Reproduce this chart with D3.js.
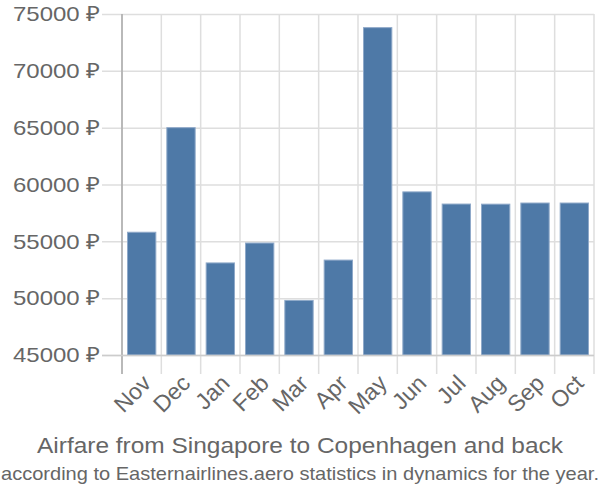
<!DOCTYPE html>
<html>
<head>
<meta charset="utf-8">
<script src="https://cdn.jsdelivr.net/npm/d3@7"></script>
<style>
  body { margin: 0; background: #fff; }
  svg { display: block; font-family: "Liberation Sans", Arial, sans-serif; }
</style>
</head>
<body>
<div id="vis"></div>
<script>
// data
var months = ["Nov","Dec","Jan","Feb","Mar","Apr","May","Jun","Jul","Aug","Sep","Oct"]
var prices = [55800, 65000, 53100, 54850, 49800, 53350, 73800, 59350, 58280, 58270, 58370, 58370]
var yTicks = [45000, 50000, 55000, 60000, 65000, 70000, 75000]
var title = "Airfare from Singapore to Copenhagen and back"
var subtitle = "according to Easternairlines.aero statistics in dynamics for the year."

var width = 600, height = 500
var plotLeft = 122, plotRight = 594, plotTop = 14, plotBottom = 355

var x = d3.scaleBand()
  .domain(months)
  .range([plotLeft, plotRight])
  .paddingInner(0.28)
  .paddingOuter(0.14)

var y = d3.scaleLinear()
  .domain([45000, 75000])
  .range([plotBottom, plotTop])

var svg = d3.select("#vis").append("svg")
  .attr("width", width)
  .attr("height", height)

// horizontal grid
svg.append("g").selectAll("line")
  .data(yTicks)
  .enter().append("line")
  .attr("x1", plotLeft - 20)
  .attr("x2", plotRight)
  .attr("y1", d => y(d) + 0.5)
  .attr("y2", d => y(d) + 0.5)
  .style("stroke", "#dedede")
  .style("stroke-width", "1.5px")

// vertical grid
var step = x.step()
svg.append("g").selectAll("line")
  .data(d3.range(months.length + 1))
  .enter().append("line")
  .attr("x1", i => plotLeft + i * step)
  .attr("x2", i => plotLeft + i * step)
  .attr("y1", plotTop)
  .attr("y2", plotBottom + 19)
  .style("stroke", "#dedede")
  .style("stroke-width", "1.5px")

// bars
svg.append("g").selectAll("rect")
  .data(prices)
  .enter().append("rect")
  .attr("x", (d, i) => x(months[i]))
  .attr("y", d => y(d))
  .attr("width", x.bandwidth())
  .attr("height", d => plotBottom - y(d))
  .style("fill", "#4e79a7")
  .style("stroke", "#8fa9c9")
  .style("stroke-width", "1px")

// axis lines
svg.append("line")
  .attr("x1", plotLeft).attr("x2", plotLeft)
  .attr("y1", plotTop).attr("y2", plotBottom + 19)
  .style("stroke", "#aaaaaa").style("stroke-width", "1.5px")

svg.append("line")
  .attr("x1", plotLeft - 20).attr("x2", plotRight)
  .attr("y1", plotBottom + 0.5).attr("y2", plotBottom + 0.5)
  .style("stroke", "#cccccc").style("stroke-width", "1.5px")

// y labels
var yAxis = svg.append("g")
  .attr("transform", `translate(${plotLeft - 22},0)`)
  .call(d3.axisLeft(y).tickValues(yTicks).tickSize(0).tickPadding(0).tickFormat(d => d + " ₽"))
yAxis.select(".domain").remove()
yAxis.selectAll("text")
  .style("font-family", "'Liberation Sans', Arial, sans-serif")
  .style("font-size", "21px")
  .attr("fill", "#666")
  .attr("textLength", 87)
  .attr("lengthAdjust", "spacingAndGlyphs")

// x labels
var xAxis = svg.append("g")
  .attr("transform", `translate(0,${plotBottom})`)
  .call(d3.axisBottom(x).tickSize(0).tickPadding(0))
xAxis.select(".domain").remove()
xAxis.selectAll("text")
  .style("font-family", "'Liberation Sans', Arial, sans-serif")
  .style("font-size", "23px")
  .attr("fill", "#666")
  .attr("text-anchor", "end")
  .attr("dy", "0.35em")
  .attr("transform", "translate(5,24) rotate(-45)")

// titles
svg.append("text")
  .attr("x", width / 2)
  .attr("y", 453)
  .attr("text-anchor", "middle")
  .attr("fill", "#666")
  .attr("textLength", 526)
  .attr("lengthAdjust", "spacingAndGlyphs")
  .style("font-size", "22px")
  .text(title)

svg.append("text")
  .attr("x", width / 2)
  .attr("y", 480)
  .attr("text-anchor", "middle")
  .attr("fill", "#666")
  .attr("textLength", 598)
  .attr("lengthAdjust", "spacingAndGlyphs")
  .style("font-size", "19px")
  .text(subtitle)
</script>
</body>
</html>
